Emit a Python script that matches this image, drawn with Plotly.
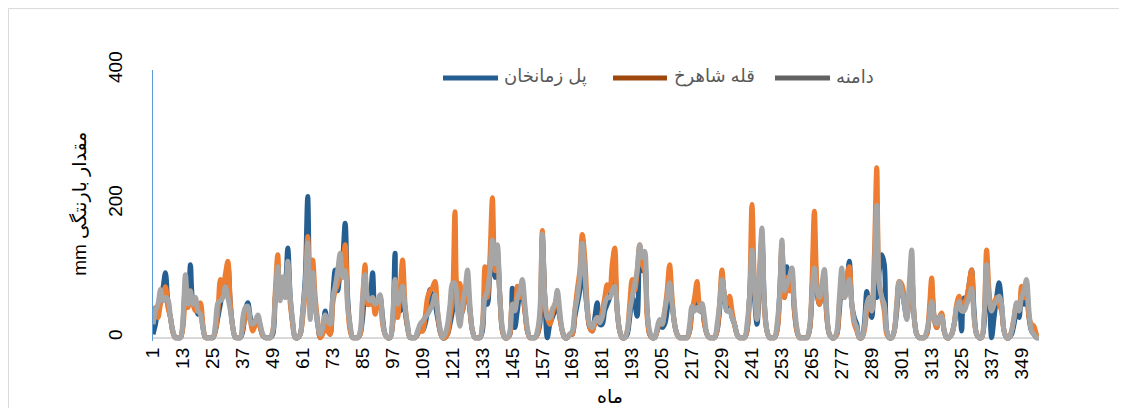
import plotly.graph_objects as go

# ---------------- data ----------------
months = list(range(1, 357))
tick_months = list(range(1, 350, 12))
tick_labels = [str(v) for v in tick_months]

series_names = ["پل زمانخان", "قله شاهرخ", "دامنه"]

pol_zamankhan = [
    5, 20, 45, 60, 75, 97, 50, 30, 8, 0, 0, 0,
    20, 70, 60, 109, 55, 50, 35, 40, 15, 0, 0, 0,
    0, 10, 30, 50, 70, 80, 109, 50, 15, 0, 0, 0,
    10, 40, 52, 30, 15, 25, 30, 15, 3, 0, 0, 0,
    5, 60, 100, 60, 70, 80, 134, 60, 20, 0, 0, 5,
    40, 90, 211, 40, 90, 50, 20, 0, 10, 40, 15, 5,
    60, 101, 70, 100, 120, 171, 60, 15, 0, 0, 0, 5,
    30, 70, 50, 60, 97, 40, 50, 60, 30, 5, 0, 0,
    20, 126, 40, 40, 80, 40, 15, 0, 0, 0, 5, 15,
    10, 20, 40, 72, 60, 50, 30, 10, 0, 0, 5, 20,
    40, 80, 50, 30, 40, 60, 70, 40, 10, 0, 0, 0,
    10, 60, 50, 100, 130, 90, 120, 60, 10, 0, 0, 5,
    74, 15, 40, 60, 60, 40, 10, 0, 0, 0, 5, 20,
    150, 60, 0, 20, 30, 40, 50, 30, 10, 0, 0, 5,
    5, 30, 50, 70, 120, 80, 40, 15, 10, 30, 52, 20,
    20, 40, 50, 60, 80, 100, 40, 10, 0, 0, 5, 30,
    60, 50, 32, 130, 100, 110, 40, 5, 0, 0, 10, 20,
    15, 20, 40, 80, 50, 20, 5, 0, 0, 0, 0, 10,
    40, 50, 60, 40, 40, 20, 5, 0, 0, 0, 10, 40,
    90, 60, 40, 50, 30, 20, 5, 0, 0, 0, 10, 60,
    120, 60, 20, 80, 150, 50, 10, 0, 0, 0, 10, 60,
    130, 60, 106, 70, 90, 40, 10, 0, 0, 0, 0, 10,
    60, 150, 70, 50, 70, 90, 30, 5, 0, 0, 5, 40,
    80, 60, 80, 114, 50, 30, 20, 0, 0, 20, 69, 40,
    30, 70, 60, 100, 124, 110, 10, 0, 0, 10, 40, 80,
    70, 50, 30, 60, 90, 30, 5, 0, 0, 0, 5, 30,
    70, 30, 15, 30, 30, 10, 0, 0, 5, 20, 40, 50,
    10, 59, 60, 80, 101, 40, 5, 0, 0, 20, 80, 60,
    0, 30, 60, 82, 50, 10, 0, 0, 5, 20, 40, 30,
    60, 50, 70, 30, 10, 5, 0, 0,
]

gholle_shahrokh = [
    40, 45, 30, 50, 60, 76, 45, 30, 8, 0, 0, 0,
    15, 60, 45, 60, 50, 40, 45, 52, 20, 0, 0, 0,
    0, 10, 40, 87, 70, 95, 114, 50, 15, 0, 0, 0,
    15, 30, 40, 25, 10, 20, 30, 15, 3, 0, 0, 0,
    10, 70, 124, 60, 70, 60, 100, 50, 20, 0, 0, 5,
    30, 70, 151, 40, 116, 60, 25, 0, 5, 25, 10, 5,
    50, 70, 80, 100, 110, 139, 50, 10, 0, 0, 0, 5,
    60, 109, 50, 50, 60, 35, 50, 55, 20, 5, 0, 0,
    20, 70, 30, 70, 116, 50, 15, 0, 0, 0, 5, 10,
    10, 30, 60, 70, 75, 84, 40, 10, 0, 0, 5, 30,
    60, 188, 70, 81, 40, 60, 80, 40, 10, 0, 0, 0,
    20, 106, 60, 120, 209, 100, 130, 60, 10, 0, 0, 5,
    50, 50, 77, 60, 70, 40, 10, 0, 0, 0, 5, 30,
    160, 60, 30, 20, 35, 50, 60, 30, 10, 0, 0, 5,
    5, 40, 72, 100, 154, 120, 50, 15, 10, 20, 30, 25,
    40, 60, 79, 70, 110, 134, 40, 10, 0, 0, 10, 50,
    87, 70, 100, 139, 110, 100, 30, 5, 0, 0, 10, 25,
    20, 40, 70, 109, 60, 20, 5, 0, 0, 0, 0, 10,
    40, 60, 84, 50, 45, 20, 5, 0, 0, 0, 10, 50,
    101, 60, 50, 62, 40, 20, 5, 0, 0, 0, 10, 60,
    199, 80, 30, 90, 140, 40, 10, 0, 0, 0, 10, 50,
    140, 60, 90, 70, 90, 40, 10, 0, 0, 0, 0, 10,
    80, 189, 80, 50, 70, 90, 30, 5, 0, 0, 5, 50,
    80, 60, 90, 106, 50, 20, 10, 0, 0, 10, 40, 60,
    40, 120, 254, 80, 60, 40, 5, 0, 0, 10, 50, 84,
    80, 60, 30, 60, 90, 30, 5, 0, 0, 0, 5, 40,
    89, 30, 15, 30, 37, 10, 0, 0, 5, 20, 50, 62,
    40, 50, 60, 80, 101, 30, 5, 0, 0, 30, 131, 70,
    40, 50, 60, 50, 40, 10, 0, 0, 10, 30, 50, 40,
    77, 60, 60, 30, 20, 17, 5, 0,
]

damane = [
    20, 40, 50, 72, 55, 60, 57, 30, 10, 0, 0, 0,
    30, 94, 50, 70, 50, 60, 40, 35, 15, 0, 0, 0,
    0, 20, 52, 55, 60, 76, 60, 40, 15, 0, 0, 0,
    30, 45, 47, 25, 20, 25, 34, 20, 5, 0, 0, 0,
    10, 60, 106, 55, 91, 60, 114, 60, 25, 0, 0, 5,
    40, 80, 142, 27, 97, 50, 20, 5, 15, 34, 25, 20,
    60, 77, 100, 126, 90, 100, 45, 20, 0, 0, 0, 10,
    60, 94, 60, 55, 60, 50, 55, 64, 25, 5, 0, 0,
    30, 87, 50, 60, 77, 45, 20, 0, 0, 0, 10, 20,
    25, 30, 35, 42, 50, 64, 40, 15, 0, 5, 20, 50,
    81, 81, 40, 17, 50, 70, 101, 50, 10, 0, 0, 0,
    20, 60, 70, 100, 146, 110, 139, 60, 15, 0, 0, 10,
    50, 40, 60, 70, 87, 50, 15, 0, 0, 0, 10, 40,
    155, 60, 30, 30, 43, 50, 71, 40, 10, 0, 0, 5,
    10, 40, 60, 90, 141, 100, 40, 20, 15, 25, 30, 22,
    30, 50, 60, 60, 70, 77, 40, 10, 0, 0, 10, 40,
    60, 80, 100, 139, 120, 129, 40, 10, 0, 0, 15, 27,
    20, 40, 60, 82, 50, 20, 5, 0, 0, 0, 0, 20,
    47, 40, 45, 40, 51, 30, 5, 0, 0, 0, 20, 50,
    87, 60, 40, 41, 30, 20, 5, 0, 0, 0, 20, 60,
    131, 80, 27, 100, 164, 50, 10, 0, 0, 0, 20, 60,
    146, 70, 80, 90, 104, 50, 15, 0, 0, 0, 0, 15,
    60, 104, 70, 60, 80, 102, 40, 5, 0, 0, 10, 60,
    104, 60, 70, 87, 50, 25, 15, 0, 0, 15, 50, 60,
    40, 100, 198, 80, 60, 50, 10, 0, 0, 10, 50, 84,
    70, 50, 27, 80, 131, 30, 5, 0, 0, 0, 10, 30,
    54, 30, 20, 30, 32, 10, 0, 0, 5, 20, 45, 54,
    40, 40, 50, 60, 74, 30, 5, 0, 0, 30, 109, 60,
    40, 50, 55, 62, 50, 10, 0, 0, 10, 30, 52, 40,
    60, 70, 87, 40, 10, 5, 0, 0,
]

line_colors = ["#255E91", "#ED7D31", "#A5A5A5"]
legend_colors = ["#255E91", "#9E480E", "#636363"]

y_title = "mm مقدار بارنتگی"
x_title = "ماه"

# ---------------- layout geometry ----------------
# The HTML page body has an 8px default margin, so the figure is drawn
# 8px in from the window's top-left; target positions below are window pixels.
OFF = 8
W, H = 1127 - OFF, 408 - OFF
L, R, T = 153 - OFF, 88, 70 - OFF
Y_MIN, Y_MAX = -5, 400
PX_PER_UNIT = 0.67
plot_h = (Y_MAX - Y_MIN) * PX_PER_UNIT
B = H - T - plot_h
plot_w = W - L - R


def px_to_paper(px, py):
    """window pixel -> paper coordinates"""
    fx, fy = px - OFF, py - OFF
    return (fx - L) / plot_w, (T + plot_h - fy) / plot_h


FONT = "Liberation Sans, DejaVu Sans, Arial, sans-serif"

fig = go.Figure()
for name, vals, col in zip(series_names, [pol_zamankhan, gholle_shahrokh, damane], line_colors):
    fig.add_trace(go.Scatter(
        x=months, y=vals, mode="lines", name=name, showlegend=False,
        line=dict(color=col, width=5, shape="spline", smoothing=1),
        hoverinfo="skip",
    ))

shapes = []
annotations = []

# chart border
bx0, by1 = px_to_paper(8.5, 8.5)
bx1, by0 = px_to_paper(1119.5, 430)
shapes.append(dict(type="rect", xref="paper", yref="paper", x0=bx0, x1=bx1, y0=by0, y1=by1,
                   line=dict(color="#D9D9D9", width=1), fillcolor="rgba(0,0,0,0)", layer="below"))

# legend (manual, Excel-like)
legend_items = [(443, 498, 502), (613, 667, 672), (775, 830, 834)]
leg_y = 78
for (lx0, lx1, tx), name, col in zip(legend_items, series_names, legend_colors):
    px0, py = px_to_paper(lx0, leg_y)
    px1, _ = px_to_paper(lx1, leg_y)
    shapes.append(dict(type="line", xref="paper", yref="paper", x0=px0, x1=px1, y0=py, y1=py,
                       line=dict(color=col, width=5)))
    tpx, tpy = px_to_paper(tx, leg_y - 1)
    annotations.append(dict(x=tpx, y=tpy, xref="paper", yref="paper", text=name, showarrow=False,
                            xanchor="left", yanchor="middle",
                            font=dict(family=FONT, size=18, color="#595959")))

# x-axis title
tx, ty = px_to_paper(610, 397)
annotations.append(dict(x=tx, y=ty, xref="paper", yref="paper", text=x_title, showarrow=False,
                        xanchor="center", yanchor="middle",
                        font=dict(family=FONT, size=19, color="#000000")))
# y-axis title
tx, ty = px_to_paper(80, 204)
annotations.append(dict(x=tx, y=ty, xref="paper", yref="paper", text=y_title, showarrow=False,
                        xanchor="center", yanchor="middle", textangle=-90,
                        font=dict(family=FONT, size=19, color="#000000")))

fig.update_layout(
    width=W, height=H,
    margin=dict(l=L, r=R, t=T, b=B, pad=0, autoexpand=False),
    paper_bgcolor="#FFFFFF", plot_bgcolor="#FFFFFF",
    showlegend=False,
    shapes=shapes, annotations=annotations,
    font=dict(family=FONT, size=19, color="#000000"),
)
fig.update_xaxes(
    range=[1, months[-1]], tickmode="array", tickvals=tick_months, ticktext=tick_labels,
    tickangle=-90, ticks="", showgrid=False, zeroline=False, showline=False,
    tickfont=dict(family=FONT, size=19, color="#000000"), ticklabelstandoff=2,
    automargin=False,
)
fig.update_yaxes(
    range=[Y_MIN, Y_MAX], tickmode="array", tickvals=[0, 200, 400], ticktext=["0", "200", "400"],
    tickangle=-90, ticks="", showgrid=False,
    zeroline=True, zerolinecolor="#D9D9D9", zerolinewidth=2,
    showline=True, linecolor="#5B9BD5", linewidth=1,
    tickfont=dict(family=FONT, size=19, color="#000000"), ticklabelstandoff=22,
    automargin=False,
)

fig.write_html("out.html")
